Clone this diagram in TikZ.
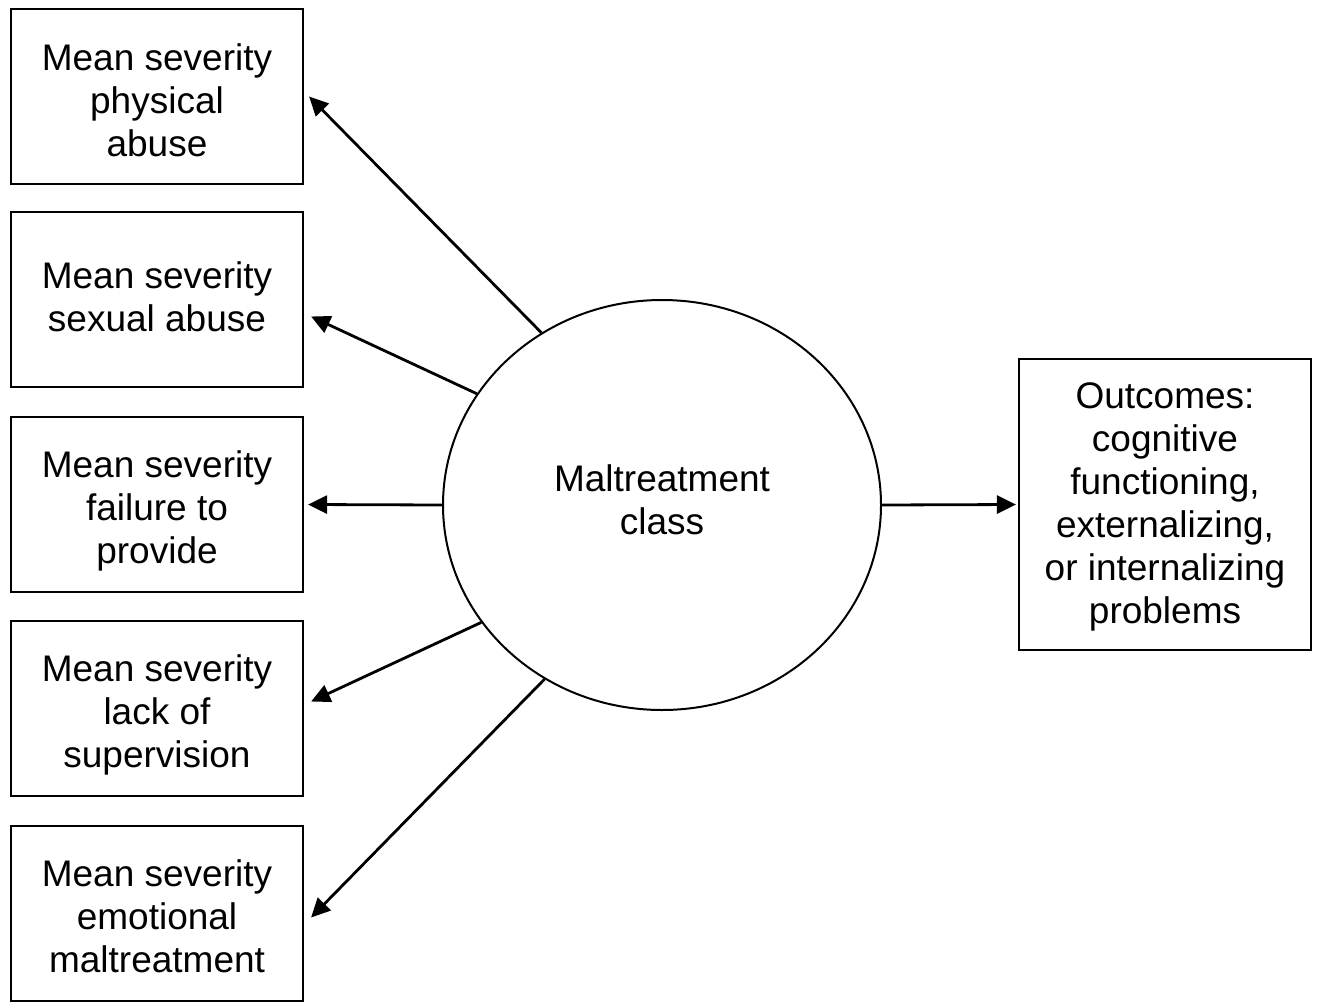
\documentclass[tikz,border=0pt]{standalone}
\usepackage{fontspec}
\setmainfont{Liberation Sans}
\usetikzlibrary{shapes.geometric,arrows.meta}
\begin{document}
\begin{tikzpicture}[x=1pt,y=-1pt,
  every node/.style={font=\fontsize{37}{43}\selectfont, align=center, inner sep=0pt},
  sbox/.style={draw, line width=2.2pt, minimum width=292pt, minimum height=175pt},
  arr/.style={line width=2.8pt, -{Triangle[length=19pt,width=18pt]}}]
\useasboundingbox (0,0) rectangle (1319,1001);
\node[sbox, label={[yshift=-4pt]center:{Mean severity\\physical\\abuse}}] (b1) at (157,96.5) {};
\node[sbox, label={[yshift=3pt]center:{Mean severity\\sexual abuse}}] (b2) at (157,299.5) {};
\node[sbox, label={[yshift=-6pt]center:{Mean severity\\failure to\\provide}}] (b3) at (157,504.5) {};
\node[sbox, label={[yshift=-6pt]center:{Mean severity\\lack of\\supervision}}] (b4) at (157,708.5) {};
\node[sbox, label={[yshift=-3pt]center:{Mean severity\\emotional\\maltreatment}}] (b5) at (157,913.5) {};
\node[draw, line width=2pt, ellipse, minimum width=438pt, minimum height=410pt,
  label={[yshift=5pt]center:{Maltreatment\\class}}] (ell) at (662,505) {};
\node[draw, line width=2.2pt, minimum width=292pt, minimum height=291pt,
  label={[yshift=-2pt]center:{Outcomes:\\cognitive\\functioning,\\externalizing,\\or internalizing\\problems}}] (out) at (1165,504.5) {};
\draw[arr] (ell.125) -- ([xshift=5pt]b1.east);
\draw[arr] (ell.149) -- ([shift={(7pt,-17pt)}]b2.east);
\draw[arr] (ell.west) -- ([xshift=4pt]b3.east);
\draw[arr] (ell.213) -- ([shift={(7pt,7pt)}]b4.east);
\draw[arr] (ell.236) -- ([shift={(7pt,-4pt)}]b5.east);
\draw[arr] (ell.east) -- ([xshift=-2pt]out.west);
\end{tikzpicture}
\end{document}
